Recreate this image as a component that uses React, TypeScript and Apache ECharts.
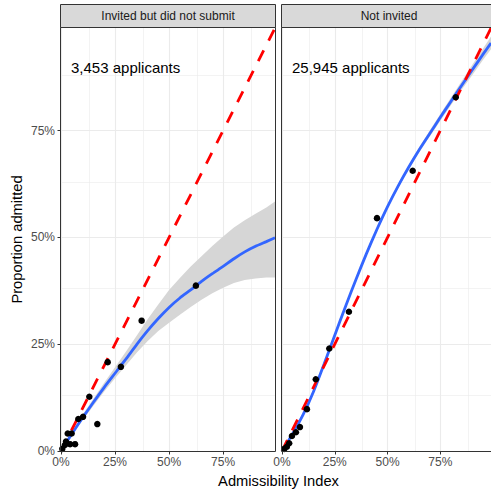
import React, { useEffect, useRef } from 'react';
import * as echarts from 'echarts';

const panelTitles = ['Invited but did not submit', 'Not invited'];
const applicantLabels = ['3,453 applicants', '25,945 applicants'];
const tickValues = [0, 0.25, 0.5, 0.75];
const minorGrid = [0.125, 0.375, 0.625, 0.875];
const axisMax = 0.99;

// observed proportions [admissibility index, proportion admitted]
const invitedPoints: [number, number][] = [
  [0.006, 0.005], [0.018, 0.014], [0.023, 0.022], [0.031, 0.041], [0.042, 0.016],
  [0.049, 0.041], [0.065, 0.016], [0.080, 0.075], [0.102, 0.080], [0.131, 0.127],
  [0.168, 0.063], [0.216, 0.208], [0.277, 0.197], [0.373, 0.305], [0.624, 0.387],
];
const notInvitedPoints: [number, number][] = [
  [0.011, 0.005], [0.023, 0.010], [0.034, 0.018], [0.047, 0.035], [0.066, 0.044],
  [0.085, 0.056], [0.118, 0.098], [0.160, 0.168], [0.224, 0.240], [0.317, 0.326],
  [0.450, 0.545], [0.619, 0.656], [0.823, 0.828],
];

// smoothed fit and confidence band
const fitX = [0, 0.05, 0.1, 0.15, 0.2, 0.25, 0.3, 0.35, 0.4, 0.45, 0.5, 0.55, 0.6, 0.65, 0.7, 0.75, 0.8, 0.85, 0.9, 0.95, 0.99];
const invitedFit = [0, 0.040, 0.078, 0.114, 0.149, 0.182, 0.215, 0.249, 0.281, 0.310, 0.336, 0.358, 0.377, 0.397, 0.415, 0.432, 0.450, 0.466, 0.479, 0.490, 0.499];
const invitedUpper = [0.004, 0.044, 0.085, 0.122, 0.160, 0.196, 0.232, 0.270, 0.308, 0.343, 0.377, 0.405, 0.432, 0.456, 0.480, 0.502, 0.523, 0.540, 0.555, 0.570, 0.584];
const invitedLower = [0, 0.036, 0.072, 0.106, 0.139, 0.170, 0.200, 0.230, 0.257, 0.281, 0.300, 0.319, 0.337, 0.354, 0.369, 0.382, 0.393, 0.400, 0.404, 0.406, 0.406];
const notInvitedFit = [0, 0.040, 0.085, 0.140, 0.204, 0.271, 0.337, 0.401, 0.462, 0.519, 0.572, 0.620, 0.664, 0.705, 0.743, 0.781, 0.818, 0.855, 0.891, 0.927, 0.955];
const notInvitedUpper = [0.003, 0.043, 0.089, 0.144, 0.208, 0.275, 0.341, 0.405, 0.466, 0.523, 0.576, 0.625, 0.669, 0.711, 0.750, 0.789, 0.827, 0.865, 0.903, 0.940, 0.970];
const notInvitedLower = [0, 0.037, 0.081, 0.136, 0.200, 0.267, 0.333, 0.397, 0.458, 0.515, 0.568, 0.615, 0.659, 0.699, 0.736, 0.773, 0.809, 0.845, 0.879, 0.914, 0.940];

const diagonal: [number, number][] = [[0, 0], [0.99, 0.99]];

const FONT = '"Liberation Sans", Arial, Helvetica, sans-serif';

const gridBoxes = [
  { left: 61, top: 28, width: 214, height: 423 },
  { left: 282, top: 28, width: 214, height: 423 },
];

function pct(v: number) {
  return Math.round(v * 100) + '%';
}

export default function App() {
  const ref = useRef<HTMLDivElement>(null);

  useEffect(() => {
    if (!ref.current) return;
    const chart = echarts.init(ref.current, undefined, { renderer: 'svg' });

    const points = [invitedPoints, notInvitedPoints];
    const fits = [invitedFit, notInvitedFit];
    const uppers = [invitedUpper, notInvitedUpper];
    const lowers = [invitedLower, notInvitedLower];

    const xAxes: any[] = [];
    const yAxes: any[] = [];
    const series: any[] = [];
    const graphics: any[] = [];

    [0, 1].forEach((i) => {
      xAxes.push({
        type: 'value',
        gridIndex: i,
        min: 0,
        max: axisMax,
        interval: 0.25,
        axisLine: { show: false },
        axisTick: { show: true, length: 3.5, customValues: tickValues, lineStyle: { color: '#333333', width: 1 } },
        axisLabel: {
          customValues: tickValues,
          formatter: (v: number) => (tickValues.some((t) => Math.abs(t - v) < 1e-6) ? pct(v) : ''),
          color: '#4D4D4D',
          fontSize: 12,
          fontFamily: FONT,
          margin: 5,
        },
        splitLine: { show: true, lineStyle: { color: '#EBEBEB', width: 1.1 } },
      });
      yAxes.push({
        type: 'value',
        gridIndex: i,
        min: 0,
        max: axisMax,
        interval: 0.25,
        axisLine: { show: false },
        axisTick: { show: i === 0, length: 3.5, customValues: tickValues, lineStyle: { color: '#333333', width: 1 } },
        axisLabel: {
          show: i === 0,
          customValues: tickValues,
          formatter: (v: number) => (tickValues.some((t) => Math.abs(t - v) < 1e-6) ? pct(v) : ''),
          color: '#4D4D4D',
          fontSize: 12,
          fontFamily: FONT,
          margin: 6,
        },
        splitLine: { show: true, lineStyle: { color: '#EBEBEB', width: 1.1 } },
      });

      // minor grid lines
      series.push({
        type: 'line',
        xAxisIndex: i,
        yAxisIndex: i,
        data: diagonal,
        symbol: 'none',
        lineStyle: { opacity: 0 },
        silent: true,
        z: 0,
        markLine: {
          z: 0,
          silent: true,
          symbol: ['none', 'none'],
          label: { show: false },
          lineStyle: { color: '#EBEBEB', width: 0.6, type: 'solid' },
          emphasis: { disabled: true },
          data: [
            ...minorGrid.map((v) => ({ xAxis: v })),
            ...minorGrid.map((v) => ({ yAxis: v })),
          ],
        },
      });

      // confidence band
      const lo = lowers[i];
      const hi = uppers[i];
      series.push({
        type: 'custom',
        xAxisIndex: i,
        yAxisIndex: i,
        silent: true,
        z: 1,
        data: fitX.map((x, k) => [x, lo[k], hi[k]]),
        renderItem: (params: any, api: any) => {
          if (params.dataIndex !== 0) return null;
          const up = fitX.map((x, k) => api.coord([x, hi[k]]));
          const dn = fitX.map((x, k) => api.coord([x, lo[k]])).reverse();
          return {
            type: 'polygon',
            shape: { points: up.concat(dn) },
            style: { fill: '#D6D6D6', stroke: 'none' },
          };
        },
      });

      // fitted curve
      series.push({
        type: 'line',
        xAxisIndex: i,
        yAxisIndex: i,
        data: fitX.map((x, k) => [x, fits[i][k]]),
        symbol: 'none',
        smooth: 0.2,
        lineStyle: { color: '#3366FF', width: 2.8 },
        silent: true,
        z: 2,
      });

      // 45-degree reference
      series.push({
        type: 'line',
        xAxisIndex: i,
        yAxisIndex: i,
        data: diagonal,
        symbol: 'none',
        lineStyle: { color: '#FF0000', width: 2.8, type: [12, 11] },
        silent: true,
        z: 3,
      });

      // observed points
      series.push({
        type: 'scatter',
        xAxisIndex: i,
        yAxisIndex: i,
        data: points[i],
        symbol: 'circle',
        symbolSize: 6.5,
        itemStyle: { color: '#000000', opacity: 1 },
        silent: true,
        z: 4,
      });

      const g = gridBoxes[i];
      // panel border
      graphics.push({
        type: 'rect',
        z: 100,
        shape: { x: g.left - 0.5, y: g.top - 0.5, width: g.width + 1, height: g.height + 1 },
        style: { fill: 'none', stroke: '#333333', lineWidth: 1 },
        silent: true,
      });
      // strip
      graphics.push({
        type: 'rect',
        z: 100,
        shape: { x: g.left - 0.5, y: 4.5, width: g.width + 1, height: g.top - 5 },
        style: { fill: '#D9D9D9', stroke: '#333333', lineWidth: 1 },
        silent: true,
      });
      graphics.push({
        type: 'text',
        z: 101,
        x: g.left + g.width / 2,
        y: (4.5 + g.top) / 2,
        style: {
          text: panelTitles[i],
          fill: '#1A1A1A',
          font: `12px ${FONT}`,
          textAlign: 'center',
          textVerticalAlign: 'middle',
        },
        silent: true,
      });
      graphics.push({
        type: 'text',
        z: 101,
        x: g.left + 10,
        y: 67,
        style: {
          text: applicantLabels[i],
          fill: '#000000',
          font: `15px ${FONT}`,
          textAlign: 'left',
          textVerticalAlign: 'middle',
        },
        silent: true,
      });
    });

    graphics.push({
      type: 'text',
      x: 278.5,
      y: 481,
      style: {
        text: 'Admissibility Index',
        fill: '#000000',
        font: `14.7px ${FONT}`,
        textAlign: 'center',
        textVerticalAlign: 'middle',
      },
      silent: true,
    });
    graphics.push({
      type: 'text',
      x: 17,
      y: 239.5,
      rotation: Math.PI / 2,
      style: {
        text: 'Proportion admitted',
        fill: '#000000',
        font: `14.7px ${FONT}`,
        textAlign: 'center',
        textVerticalAlign: 'middle',
      },
      silent: true,
    });

    chart.setOption({
      animation: false,
      backgroundColor: '#FFFFFF',
      textStyle: { fontFamily: FONT },
      grid: gridBoxes.map((g) => ({ ...g, containLabel: false, show: false })),
      xAxis: xAxes,
      yAxis: yAxes,
      series,
      graphic: { elements: graphics },
    });

    return () => chart.dispose();
  }, []);

  return (
    <div
      ref={ref}
      style={{ position: 'fixed', left: 0, top: 0, width: 491, height: 489 }}
    />
  );
}
